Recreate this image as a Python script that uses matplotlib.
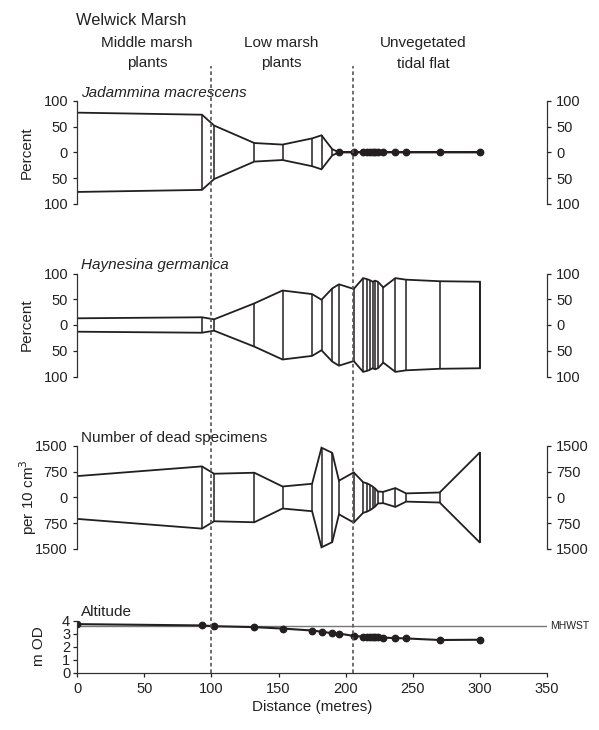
import numpy as np
import matplotlib
matplotlib.use('Agg')
import matplotlib.pyplot as plt
from matplotlib import font_manager
from matplotlib.transforms import blended_transform_factory

plt.rcParams['font.family'] = ['Liberation Sans', 'DejaVu Sans']

# sample stations along the transect (metres)
dist = [0, 93, 102, 132, 153, 175, 182, 190, 195, 206, 213, 216, 218,
        220, 222, 224, 228, 237, 245, 270, 300]
# kite half-widths
jadammina = [77, 73, 52, 18, 15, 27, 33, 6, 0, 0, 0, 0, 0,
             0, 0, 0, 0, 0, 0, 0, 0]
haynesina = [13, 15, 11, 42, 67, 60, 49, 71, 79, 70, 91, 89, 87,
             84, 86, 84, 73, 91, 88, 85, 84]
dead = [623, 906, 692, 721, 321, 400, 1451, 1300, 490, 730, 446, 410, 370,
        320, 260, 175, 165, 275, 120, 146, 1315]
altitude = [3.72, 3.62, 3.56, 3.49, 3.38, 3.23, 3.14, 3.02, 3.0, 2.81, 2.76,
            2.75, 2.74, 2.73, 2.72, 2.71, 2.68, 2.65, 2.62, 2.5, 2.52]
mhwst = 3.59
zones = ['Middle marsh\nplants', 'Low marsh\nplants', 'Unvegetated\ntidal flat']
zone_x = [52, 152, 258]
zone_bounds = [100, 205.7]

ink = '#231f20'
W, H = 599, 730
fig = plt.figure(figsize=(W / 100, H / 100), dpi=100)

left = 77.1 / W
width = 470 / W

# narrow face for the heading if we have it
installed = {f.name for f in font_manager.fontManager.ttflist}
if 'Liberation Sans Narrow' in installed:
    title_font, title_size = 'Liberation Sans Narrow', 14
else:
    title_font, title_size = 'Liberation Sans', 11.8

def fy(px):
    return 1 - px / H

def kite(ax, vals, lim, ticks, ticklabels, ylabel, title, italic, labx):
    x = np.array(dist, float)
    v = np.array(vals, float)
    ax.fill(np.r_[x, x[::-1]], np.r_[v, -v[::-1]], facecolor='white',
            edgecolor=ink, lw=1.3, joinstyle='miter')
    ax.vlines(x, -v, v, color=ink, lw=1.1)
    zero = v == 0
    if zero.any():
        ax.plot(x[zero], v[zero], 'o', color=ink, ms=4.6)
    ax.set_xlim(0, 350)
    ax.set_ylim(-lim, lim)
    for s in ['top', 'bottom']:
        ax.spines[s].set_visible(False)
    for s in ['left', 'right']:
        ax.spines[s].set_color('#333333')
        ax.spines[s].set_linewidth(0.9)
    ax.set_xticks([])
    ax.set_yticks(ticks)
    ax.set_yticklabels(ticklabels)
    ax.tick_params(axis='y', left=True, right=True, labelleft=True,
                   labelright=True, length=3, width=0.9, pad=3.5,
                   labelsize=10.5, colors='#222222')
    ax.set_ylabel(ylabel, fontsize=11, color='#222222')
    ax.yaxis.set_label_coords(labx, 0.5)
    ax.text(0.009, 1.04, title, transform=ax.transAxes, fontsize=11,
            style='italic' if italic else 'normal', color='#222222',
            va='baseline', ha='left')

ax1 = fig.add_axes([left, fy(203.8), width, 103 / H])
kite(ax1, jadammina, 100, [-100, -50, 0, 50, 100],
     ['100', '50', '0', '50', '100'], 'Percent', 'Jadammina macrescens', True, -0.092)

ax2 = fig.add_axes([left, fy(376.5), width, 103 / H])
kite(ax2, haynesina, 100, [-100, -50, 0, 50, 100],
     ['100', '50', '0', '50', '100'], 'Percent', 'Haynesina germanica', True, -0.092)

ax3 = fig.add_axes([left, fy(549), width, 103 / H])
kite(ax3, dead, 1500, [-1500, -750, 0, 750, 1500],
     ['1500', '750', '0', '750', '1500'], 'per 10 cm$^3$',
     'Number of dead specimens', False, -0.080)

# altitude profile
ax4 = fig.add_axes([left, fy(672.5), width, 52 / H])
ax4.axhline(mhwst, color='#777777', lw=1.0)
ax4.plot(dist, altitude, '-o', color=ink, lw=1.5, ms=4.6)
ax4.set_xlim(0, 350)
ax4.set_ylim(0, 4)
ax4.set_xticks(np.arange(0, 351, 50))
ax4.set_yticks([0, 1, 2, 3, 4])
for s in ['top', 'right']:
    ax4.spines[s].set_visible(False)
for s in ['left', 'bottom']:
    ax4.spines[s].set_color('#333333')
    ax4.spines[s].set_linewidth(0.9)
ax4.tick_params(length=3, width=0.9, pad=3.5, labelsize=10.5, colors='#222222')
ax4.tick_params(axis='y', pad=2)
ax4.set_xlabel('Distance (metres)', fontsize=11, color='#222222', labelpad=3)
ax4.set_ylabel('m OD', fontsize=11, color='#222222')
ax4.yaxis.set_label_coords(-0.066, 0.5)
ax4.text(0.009, 1.08, 'Altitude', transform=ax4.transAxes, fontsize=11,
         color='#222222', va='baseline', ha='left')
ax4.text(352, mhwst, 'MHWST', fontsize=7.5, color='#222222', va='center',
         ha='left', clip_on=False)

# overlay for zone boundaries and headings
ov = fig.add_axes([left, fy(672.5), width, fy(66) - fy(672.5)])
ov.set_xlim(0, 350)
ov.set_ylim(0, 1)
ov.axis('off')
ov.vlines(zone_bounds, 0, 1, colors='#555555', lw=1.2, linestyles=(0, (2.2, 1.7)))

tr = blended_transform_factory(ov.transData, fig.transFigure)
for name, zx in zip(zones, zone_x):
    l1, l2 = name.split('\n')
    fig.text(zx, fy(47), l1, transform=tr, ha='center', va='baseline',
             fontsize=11, color='#222222')
    fig.text(zx, fy(67.5), l2, transform=tr, ha='center', va='baseline',
             fontsize=11, color='#222222')
fig.text(76 / W, fy(25), 'Welwick Marsh', ha='left', va='baseline',
         fontsize=title_size, color='#222222', family=[title_font, 'DejaVu Sans'])

fig.savefig('out.png', dpi=100)
